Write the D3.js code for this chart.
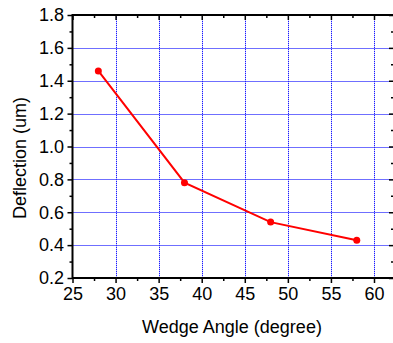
<!DOCTYPE html>
<html>
<head>
<meta charset="utf-8">
<script src="https://cdn.jsdelivr.net/npm/d3@7"></script>
<style>
  body { margin: 0; background: #fff; }
  svg { font-family: "Liberation Sans", Arial, sans-serif; }
</style>
</head>
<body>
<div id="chart"></div>
<script>
const angles = [28, 38, 48, 58];
const deflection = [1.46, 0.78, 0.54, 0.43];
const xTicks = [25, 30, 35, 40, 45, 50, 55, 60];
const yTicks = [0.2, 0.4, 0.6, 0.8, 1.0, 1.2, 1.4, 1.6, 1.8];

const width = 393, height = 343;
const mLeft = 72.5, mTop = 15, mBottom = 278, mRight = 395;

const svg = d3.select('#chart').append('svg')
    .attr('width', width)
    .attr('height', height);

// x(25)=72.5, x(60)=374
const x = d3.scaleLinear().domain([25, 60]).range([mLeft, 374]);
const y = d3.scaleLinear().domain([0.2, 1.8]).range([mBottom, mTop]);

const xMinor = d3.range(27.5, 63, 5).filter(v => x(v) < mRight);
const yMinor = d3.range(0.3, 1.8, 0.2);
const snap = v => Math.round(v) + 0.5;

// grid: pale solid line under blue dots
function drawGrid(color, dash) {
  const g = svg.append('g')
      .attr('stroke', color)
      .attr('stroke-width', 1)
      .attr('stroke-dasharray', dash);
  g.selectAll('.gx').data(xTicks.slice(1))
      .join('line')
      .attr('class', 'gx')
      .attr('x1', d => snap(x(d))).attr('x2', d => snap(x(d)))
      .attr('y1', mTop).attr('y2', mBottom);
  g.selectAll('.gy').data(yTicks.slice(1, -1))
      .join('line')
      .attr('class', 'gy')
      .attr('y1', d => snap(y(d))).attr('y2', d => snap(y(d)))
      .attr('x1', mLeft).attr('x2', mRight);
}
drawGrid('#c4c4ff', null);
drawGrid('#1a1aff', '1,1');

// frame
svg.append('rect')
    .attr('x', mLeft).attr('y', mTop)
    .attr('width', mRight - mLeft).attr('height', mBottom - mTop)
    .attr('fill', 'none').attr('stroke', '#000').attr('stroke-width', 2);

// axes
svg.append('g').attr('transform', `translate(0,${mBottom})`)
    .call(d3.axisBottom(x).tickValues(xTicks).tickSize(5).tickSizeOuter(0).tickPadding(4));
svg.append('g').attr('transform', `translate(0,${mBottom})`)
    .call(d3.axisBottom(x).tickValues(xMinor).tickSize(3).tickFormat('').tickSizeOuter(0));
svg.append('g').attr('transform', `translate(0,${mTop})`)
    .call(d3.axisBottom(x).tickValues(xTicks).tickSize(5).tickFormat('').tickSizeOuter(0));
svg.append('g').attr('transform', `translate(0,${mTop})`)
    .call(d3.axisBottom(x).tickValues(xMinor).tickSize(3).tickFormat('').tickSizeOuter(0));

svg.append('g').attr('transform', `translate(${mLeft},0)`)
    .call(d3.axisLeft(y).tickValues(yTicks).tickSize(5).tickSizeOuter(0).tickPadding(3.5).tickFormat(d3.format('.1f')));
svg.append('g').attr('transform', `translate(${mLeft},0)`)
    .call(d3.axisLeft(y).tickValues(yMinor).tickSize(3).tickFormat('').tickSizeOuter(0));
svg.append('g').attr('transform', `translate(${mRight - 1},0)`)
    .call(d3.axisLeft(y).tickValues(yTicks).tickSize(5).tickFormat('').tickSizeOuter(0));
svg.append('g').attr('transform', `translate(${mRight - 1},0)`)
    .call(d3.axisLeft(y).tickValues(yMinor).tickSize(3).tickFormat('').tickSizeOuter(0));

svg.selectAll('.domain').remove();
svg.selectAll('.tick line').attr('stroke', '#000').attr('stroke-width', 1.5);
svg.selectAll('.tick text').attr('fill', '#000').style('font-size', '18px')
    .style('font-family', '"Liberation Sans", Arial, sans-serif');

// line
const pts = angles.map((a, i) => [a, deflection[i]]);
svg.append('path')
    .datum(pts)
    .attr('fill', 'none')
    .attr('stroke', '#ff0000')
    .attr('stroke-width', 2)
    .attr('d', d3.line().x(d => x(d[0])).y(d => y(d[1])));
svg.selectAll('.pt').data(pts)
    .join('circle')
    .attr('cx', d => x(d[0])).attr('cy', d => y(d[1]))
    .attr('r', 3.5)
    .attr('fill', '#ff0000');

// titles
svg.append('text')
    .attr('x', 232).attr('y', 333)
    .attr('text-anchor', 'middle')
    .style('font-size', '18px')
    .text('Wedge Angle (degree)');
svg.append('text')
    .attr('transform', 'translate(26,158) rotate(-90)')
    .attr('text-anchor', 'middle')
    .style('font-size', '18px')
    .text('Deflection (um)');
</script>
</body>
</html>
